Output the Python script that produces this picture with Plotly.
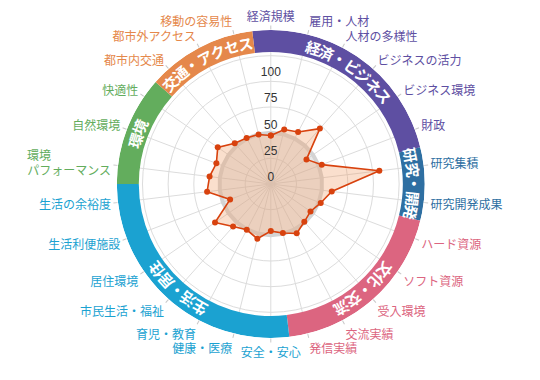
import plotly.graph_objects as go
import math

# ---------------- data ----------------
categories = [
    "経済規模", "雇用・人材", "人材の多様性", "ビジネスの活力", "ビジネス環境", "財政",
    "研究集積", "研究開発成果",
    "ハード資源", "ソフト資源", "受入環境", "交流実績", "発信実績",
    "安全・安心", "健康・医療", "育児・教育", "市民生活・福祉", "居住環境", "生活利便施設", "生活の余裕度",
    "環境　　　　　<br>パフォーマンス", "自然環境", "快適性",
    "都市内交通", "都市外アクセス", "移動の容易性",
]
values = [47.2, 54.6, 57.2, 72.1, 42.2, 53.1,
          106.5, 59.8,
          52.0, 47.0, 49.2, 54.3, 49.1,
          45.9, 54.9, 50.4, 55.4, 66.0, 42.4, 62.5,
          60.1, 56.7, 62.8,
          53.0, 50.7, 49.7]
baseline = [50] * 26
groups = ["経済・ビジネス", "研究・開発", "文化・交流", "生活・居住", "環境", "交通・アクセス"]
group_sizes = [6, 2, 5, 7, 3, 3]
group_colors = ["#5e4fa2", "#2e6fa2", "#dc6580", "#1ba2d1", "#63ad5d", "#e5884b"]
radial_ticks = [0, 25, 50, 75, 100]

# ---------------- geometry ----------------
W, H = 540, 380
cx, cy = 270.8, 184.0
R_OUT = 154.0
R_IN = 132.0
RMAX = 150.0
ring_base = R_IN / R_OUT * RMAX
ring_width = RMAX - ring_base

n = len(categories)
step = 360.0 / n
angles = [i * step for i in range(n)]

cat_colors = []
for g, s in enumerate(group_sizes):
    cat_colors += [group_colors[g]] * s
ticktext = [f'<span style="color:{c}">{t}</span>' for t, c in zip(categories, cat_colors)]

fig = go.Figure()

# baseline (average 50) circle
fig.add_trace(go.Scatterpolar(
    r=baseline + [baseline[0]], theta=angles + [angles[0]],
    mode="lines", line=dict(color="#d4d4d4", width=4),
    fill="toself", fillcolor="rgba(195,195,195,0.35)", hoverinfo="skip"))

# data polygon
fig.add_trace(go.Scatterpolar(
    r=values + [values[0]], theta=angles + [angles[0]],
    mode="lines+markers", line=dict(color="#d8420e", width=1.6),
    marker=dict(color="#d8420e", size=6),
    fill="toself", fillcolor="rgba(240,150,90,0.30)"))

# ring segments
starts = [sum(group_sizes[:g]) for g in range(len(groups))]
centers = [(st + (sz - 1) / 2) * step for st, sz in zip(starts, group_sizes)]
fig.add_trace(go.Barpolar(
    r=[ring_width] * len(groups), base=[ring_base] * len(groups),
    theta=centers, width=[sz * step for sz in group_sizes],
    marker=dict(color=group_colors, line=dict(width=0)), hoverinfo="skip"))

# radial tick labels (drawn slightly above each grid circle)
label_r = [5.4 + v * 1.03 for v in radial_ticks]
fig.add_trace(go.Scatterpolar(
    r=label_r, theta=[0] * len(radial_ticks), mode="text",
    text=[str(v) for v in radial_ticks], textposition="middle center",
    textfont=dict(size=12, color="#333333", family="Liberation Sans, Arial, sans-serif"),
    hoverinfo="skip"))

# curved group names in the ring
annotations = []
rm = (R_IN + R_OUT) / 2
char_step = 5.8
for name, c in zip(groups, centers):
    chars = list(name)
    m = len(chars)
    for k, ch in enumerate(chars):
        a = c + (k - (m - 1) / 2) * char_step
        rad = math.radians(a)
        px = cx + rm * math.sin(rad)
        py = cy - rm * math.cos(rad)
        annotations.append(dict(
            x=px / W, y=1 - py / H, xref="paper", yref="paper",
            text=ch, showarrow=False, textangle=a,
            xanchor="center", yanchor="middle",
            font=dict(size=15, color="white", family="Noto Sans CJK JP", weight="bold")))

fig.update_layout(
    width=W, height=H,
    margin=dict(l=0, r=0, t=0, b=0),
    paper_bgcolor="white",
    showlegend=False,
    hovermode=False,
    annotations=annotations,
    polar=dict(
        domain=dict(x=[(cx - R_OUT) / W, (cx + R_OUT) / W],
                    y=[1 - (cy + R_OUT) / H, 1 - (cy - R_OUT) / H]),
        bgcolor="white",
        radialaxis=dict(range=[0, RMAX], tickvals=[25, 50, 75, 100, 125],
                        showticklabels=False, showline=False, ticks="",
                        gridcolor="#dcdcdc", gridwidth=1),
        angularaxis=dict(type="linear", thetaunit="degrees",
                         direction="clockwise", rotation=90,
                         tickmode="array", tickvals=angles, ticktext=ticktext,
                         ticks="outside", ticklen=4, tickcolor="#c8c8c8",
                         showline=False, gridcolor="#dcdcdc", gridwidth=1,
                         tickfont=dict(size=12, family="Noto Sans CJK JP")),
    ),
)

fig.write_html("out.html", config={"displayModeBar": False},
               post_script="document.body.style.margin='0';")
